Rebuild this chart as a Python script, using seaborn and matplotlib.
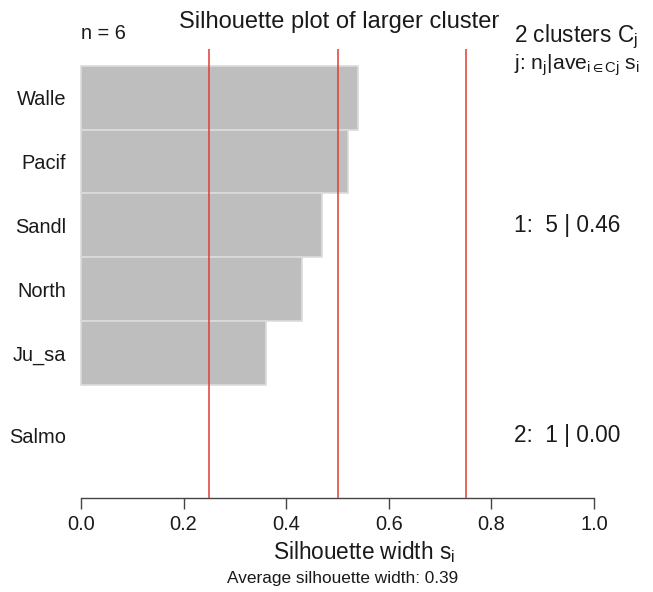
import numpy as np
import pandas as pd
import matplotlib
matplotlib.use("Agg")
import matplotlib.pyplot as plt
import seaborn as sns

# ---- data ----
names = ["Walle", "Pacif", "Sandl", "North", "Ju_sa", "Salmo"]
sil_width = [0.54, 0.52, 0.47, 0.43, 0.36, 0.00]
cluster = [1, 1, 1, 1, 1, 2]
row_pos = [0.0, 1.0, 2.0, 3.0, 4.0, 5.3]
xticks = [0.0, 0.2, 0.4, 0.6, 0.8, 1.0]
ref_lines = [0.25, 0.5, 0.75]

sns.set_theme(style="white")
plt.rcParams["font.family"] = ["Liberation Sans", "DejaVu Sans"]
plt.rcParams["mathtext.fontset"] = "custom"
plt.rcParams["mathtext.rm"] = "Liberation Sans"
plt.rcParams["mathtext.it"] = "Liberation Sans"
plt.rcParams["mathtext.sf"] = "Liberation Sans"

txt = "#1a1a1a"
fs = 14.4
fs_big = 16.3

df = pd.DataFrame({"name": names, "s": sil_width, "pos": row_pos, "cl": cluster})

fig = plt.figure(figsize=(6.53, 5.92), dpi=100)
ax = fig.add_axes([60.5 / 653, 1 - 498 / 592, 554 / 653, 449 / 592])

sns.barplot(data=df, x="s", y="pos", orient="h", native_scale=True,
            color="#BEBEBE", saturation=1, width=1.0,
            edgecolor="#DCDCDC", linewidth=1.2, ax=ax)
for p in ax.patches:
    if p.get_width() == 0:
        p.set_visible(False)

for v in ref_lines:
    ax.axvline(v, color="#E23B34", lw=1.1, zorder=5)

ax.set_xlim(-0.04, 1.04)
ax.set_ylim(6.274, -0.763)

ax.set_yticks(row_pos, labels=names)
ax.tick_params(axis="y", length=0, pad=-4, labelsize=fs, labelcolor=txt)
ax.set_xticks(xticks, labels=[f"{t:.1f}" for t in xticks])
ax.tick_params(axis="x", length=8, width=1, color="#444444", pad=4,
               labelsize=fs, labelcolor=txt, bottom=True)

for sp in ["top", "right", "left"]:
    ax.spines[sp].set_visible(False)
ax.spines["bottom"].set_bounds(0, 1)
ax.spines["bottom"].set_color("#444444")
ax.spines["bottom"].set_linewidth(1)

ax.set_xlabel("")
ax.set_ylabel("")
fig.text(364 / 653, 1 - 552 / 592, r"Silhouette width $\mathregular{s_i}$",
         ha="center", va="center", fontsize=fs_big, color=txt)

avg = np.mean(sil_width)
fig.text(343 / 653, 1 - 579 / 592, f"Average silhouette width: {avg:.2f}",
         ha="center", va="center", fontsize=12.4, color=txt)

fig.text(339 / 653, 1 - 22 / 592, "Silhouette plot of larger cluster",
         ha="center", va="center", fontsize=17, color=txt)

ax.text(0.0, -1.0, f"n = {len(names)}", ha="left", va="center",
        fontsize=fs, color=txt)

xr = 0.844
ncl = len(set(cluster))
ax.text(xr, -0.95, f"{ncl} clusters " + r"$\mathregular{C_j}$",
        ha="left", va="center", fontsize=fs_big, color=txt)
ax.text(xr, -0.51, r"j: $\mathregular{n_j|ave_{i\in{}Cj}\;s_i}$",
        ha="left", va="center", fontsize=15.2, color=txt)

for c in sorted(set(cluster)):
    idx = [i for i, k in enumerate(cluster) if k == c]
    vals = [sil_width[i] for i in idx]
    ymid = np.mean([row_pos[i] for i in idx])
    ax.text(xr, ymid, f"{c}:  {len(idx)} | {np.mean(vals):.2f}",
            ha="left", va="center", fontsize=fs_big, color=txt)

fig.savefig("out.png", dpi=100)
